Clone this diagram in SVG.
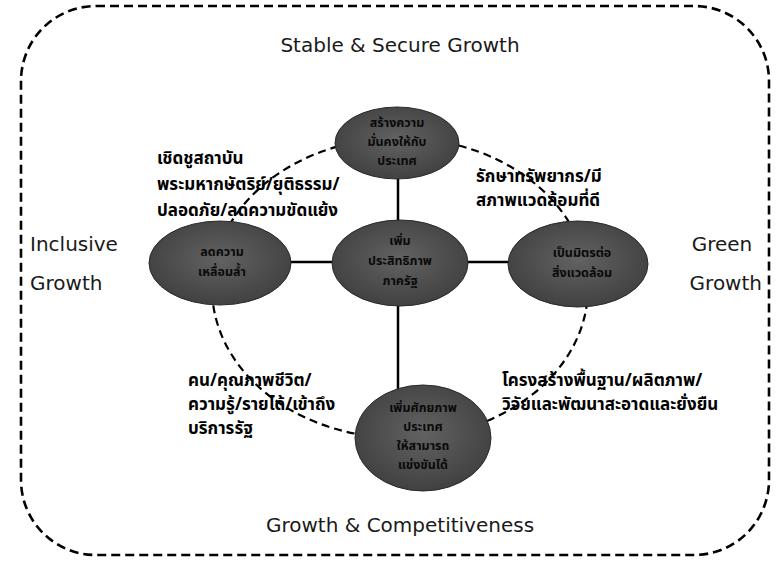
<svg xmlns="http://www.w3.org/2000/svg" width="779" height="564" viewBox="0 0 779 564">
<defs>
<radialGradient id="g" cx="50%" cy="45%" r="60%">
<stop offset="0" stop-color="#626262"/>
<stop offset="1" stop-color="#3e3e3e"/>
</radialGradient>
</defs>
<style>
.en{font-family:"DejaVu Sans","Noto Sans",sans-serif;font-size:20px;fill:#1a1a1a}
.th{font-family:"Noto Sans Thai","Loma","Garuda","Tlwg Typo","Norasi",sans-serif;font-size:17px;font-weight:bold;fill:#000}
.ct{font-family:"Noto Sans Thai","Loma","Garuda","Norasi",sans-serif;font-size:12.5px;font-weight:bold;fill:#0a0a0a;text-anchor:middle}
.node{fill:url(#g);stroke:#2a2a2a;stroke-width:1}
.dash{fill:none;stroke:#000;stroke-width:2.6;stroke-dasharray:9 5}
.solid{stroke:#000;stroke-width:2.5}
</style>
<rect x="21" y="6" width="748" height="549" rx="75" ry="75" class="dash"/>
<g id="connectors">
<ellipse cx="400" cy="288" rx="188" ry="150" fill="none" stroke="#000" stroke-width="2.2" stroke-dasharray="8 5"/>
<line x1="398" y1="178" x2="398" y2="222" class="solid"/>
<line x1="290" y1="262" x2="332" y2="262" class="solid"/>
<line x1="467" y1="262" x2="509" y2="262" class="solid"/>
<line x1="398" y1="305" x2="398" y2="390" class="solid"/>
</g>
<text class="en" x="400" y="52" text-anchor="middle">Stable &amp; Secure Growth</text>
<text class="en" x="30" y="251">Inclusive</text>
<text class="en" x="30" y="290">Growth</text>
<text class="en" x="722" y="251" text-anchor="middle">Green</text>
<text class="en" x="762" y="290" text-anchor="end">Growth</text>
<text class="en" x="400" y="532" text-anchor="middle">Growth &amp; Competitiveness</text>
<g id="top">
<ellipse cx="397" cy="143" rx="62" ry="36" class="node"/>
<text class="ct" x="397" y="127">สร้างความ</text>
<text class="ct" x="397" y="146">มั่นคงให้กับ</text>
<text class="ct" x="397" y="165">ประเทศ</text>
</g>
<g id="left">
<ellipse cx="220" cy="263" rx="71" ry="42" class="node"/>
<text class="ct" x="222" y="256">ลดความ</text>
<text class="ct" x="222" y="276">เหลื่อมล้ำ</text>
</g>
<g id="center">
<ellipse cx="400" cy="263" rx="68" ry="43" class="node"/>
<text class="ct" x="400" y="245">เพิ่ม</text>
<text class="ct" x="400" y="265">ประสิทธิภาพ</text>
<text class="ct" x="400" y="285">ภาครัฐ</text>
</g>
<g id="right">
<ellipse cx="578" cy="264" rx="70" ry="43" class="node"/>
<text class="ct" x="582" y="257">เป็นมิตรต่อ</text>
<text class="ct" x="582" y="277">สิ่งแวดล้อม</text>
</g>
<g id="bottom">
<ellipse cx="423" cy="438" rx="68" ry="53" class="node"/>
<text class="ct" x="423" y="412">เพิ่มศักยภาพ</text>
<text class="ct" x="423" y="431">ประเทศ</text>
<text class="ct" x="423" y="450">ให้สามารถ</text>
<text class="ct" x="423" y="469">แข่งขันได้</text>
</g>
<g id="labels">
<text class="th" x="157" y="164">เชิดชูสถาบัน</text>
<text class="th" x="157" y="190">พระมหากษัตริย์/ยุติธรรม/</text>
<text class="th" x="157" y="216">ปลอดภัย/ลดความขัดแย้ง</text>
<text class="th" x="476" y="182">รักษาทรัพยากร/มี</text>
<text class="th" x="476" y="206">สภาพแวดล้อมที่ดี</text>
<text class="th" x="188" y="386">คน/คุณภาพชีวิต/</text>
<text class="th" x="188" y="410">ความรู้/รายได้/เข้าถึง</text>
<text class="th" x="188" y="434">บริการรัฐ</text>
<text class="th" x="502" y="386">โครงสร้างพื้นฐาน/ผลิตภาพ/</text>
<text class="th" x="502" y="410">วิจัยและพัฒนาสะอาดและยั่งยืน</text>
</g>
</svg>
